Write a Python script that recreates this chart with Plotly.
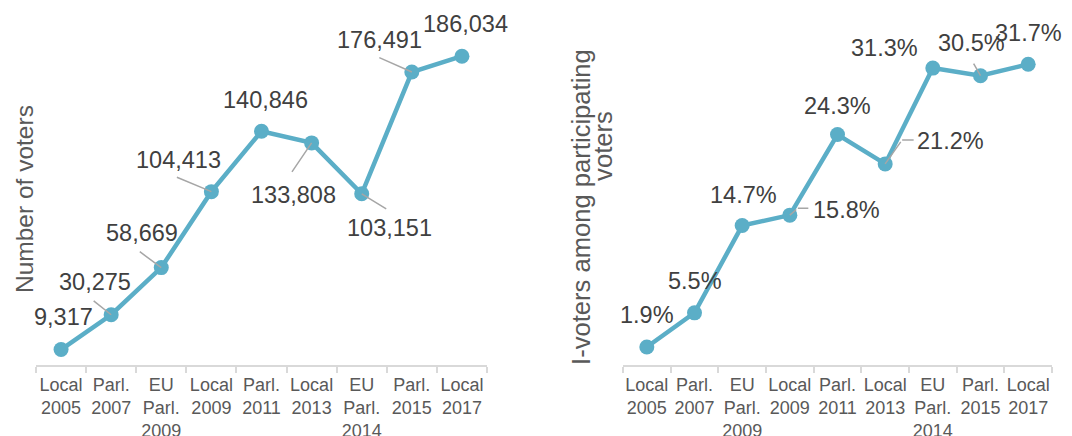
import plotly.graph_objects as go

# Election rounds (shared by both panels)
elections = ["Local<br>2005", "Parl.<br>2007", "EU<br>Parl.<br>2009", "Local<br>2009",
             "Parl.<br>2011", "Local<br>2013", "EU<br>Parl.<br>2014", "Parl.<br>2015",
             "Local<br>2017"]

# Number of internet voters
voters = [9317, 30275, 58669, 104413, 140846, 133808, 103151, 176491, 186034]

# Share of I-voters among participating voters (%)
share = [1.9, 5.5, 14.7, 15.8, 24.3, 21.2, 31.3, 30.5, 31.7]

# Label placement offsets in pixels (dx right, dy down) relative to each point
voters_label_off = [(2, -33), (-16, -33), (-19, -35), (-33, -32), (4, -31),
                    (-18, 52), (28, 34), (-32, -32), (4, -32)]
share_label_off = [(0, -32), (0, -32), (1, -31), (57, -5), (0, -29),
                   (65, -23), (-48, -20), (-9, -33), (0, -31)]

# Leader lines: (point index, start dx, start dy, end dx, end dy) in pixels
voters_leaders = [(1, 0, 0, -19, -15), (2, 0, 0, -23, -17), (3, 0, 0, -36, -15),
                  (5, 0, 0, -21, 31), (6, 0, 0, 26, 16), (7, 0, 0, -34, -15)]
share_leaders = [(3, 0, 0, 8, -7), (3, 8, -7, 20, -7),
                 (5, 0, 0, 17, -24), (5, 17, -24, 30, -24),
                 (7, 0, 0, -8, -14)]

LINE_COLOR = "#5BAEC7"
LABEL_COLOR = "#404040"
AXIS_TEXT = "#595959"
GRID_GRAY = "#D9D9D9"
LEADER_GRAY = "#A6A6A6"
FONT = "Arial, Liberation Sans, sans-serif"

W, H = 1072, 436
fig = go.Figure()

fig.add_trace(go.Scatter(
    x=elections, y=voters, mode="lines+markers", xaxis="x", yaxis="y",
    line=dict(color=LINE_COLOR, width=4.5),
    marker=dict(color=LINE_COLOR, size=15), hoverinfo="skip", showlegend=False))
fig.add_trace(go.Scatter(
    x=elections, y=share, mode="lines+markers", xaxis="x2", yaxis="y2",
    line=dict(color=LINE_COLOR, width=4.5),
    marker=dict(color=LINE_COLOR, size=15), hoverinfo="skip", showlegend=False))

annotations = []


def add_labels(xref, yref, values, offsets, fmt):
    for cat, v, (dx, dy) in zip(elections, values, offsets):
        annotations.append(dict(
            x=cat, y=v, xref=xref, yref=yref, text=fmt(v), showarrow=False,
            xanchor="center", yanchor="middle", xshift=dx, yshift=-dy,
            font=dict(family=FONT, size=23.5, color=LABEL_COLOR)))


def add_leaders(xref, yref, values, leaders):
    for i, sx, sy, ex, ey in leaders:
        annotations.append(dict(
            x=elections[i], y=values[i], xref=xref, yref=yref, text=" ",
            showarrow=True, arrowhead=0, arrowwidth=1.5, arrowcolor=LEADER_GRAY,
            standoff=0, startstandoff=0, xshift=sx, yshift=-sy,
            ax=ex - sx, ay=ey - sy, font=dict(size=1)))


add_labels("x", "y", voters, voters_label_off, lambda v: f"{v:,}")
add_labels("x2", "y2", share, share_label_off, lambda v: f"{v:.1f}%")
add_leaders("x", "y", voters, voters_leaders)
add_leaders("x2", "y2", share, share_leaders)

# Rotated axis titles
annotations.append(dict(text="Number of voters", xref="paper", yref="paper",
                        x=24 / W, y=0.5, textangle=-90, showarrow=False,
                        xanchor="center", yanchor="middle",
                        font=dict(family=FONT, size=24.5, color=AXIS_TEXT)))
annotations.append(dict(text="I-voters among participating", xref="paper", yref="paper",
                        x=581 / W, y=0.476, textangle=-90, showarrow=False,
                        xanchor="center", yanchor="middle",
                        font=dict(family=FONT, size=25.6, color=AXIS_TEXT)))
annotations.append(dict(text="voters", xref="paper", yref="paper",
                        x=603 / W, y=0.66, textangle=-90, showarrow=False,
                        xanchor="center", yanchor="middle",
                        font=dict(family=FONT, size=25.6, color=AXIS_TEXT)))

xaxis_style = dict(
    type="category", range=[-0.5, len(elections) - 0.5], autorange=False,
    showline=True, linecolor=GRID_GRAY, linewidth=2,
    ticks="outside", tickson="boundaries", ticklen=6, tickcolor=GRID_GRAY, tickwidth=2,
    showgrid=False, zeroline=False, tickangle=0, automargin=False, ticklabelstandoff=2,
    tickfont=dict(family=FONT, size=18, color=AXIS_TEXT), fixedrange=True)
yaxis_style = dict(showline=False, showticklabels=False, showgrid=False,
                   zeroline=False, ticks="", fixedrange=True, automargin=False)

fig.update_layout(
    width=W, height=H,
    margin=dict(l=0, r=0, t=33, b=71),
    paper_bgcolor="white", plot_bgcolor="white",
    xaxis=dict(domain=[36 / W, 487 / W], anchor="y", **xaxis_style),
    xaxis2=dict(domain=[623 / W, 1052 / W], anchor="y2", **xaxis_style),
    yaxis=dict(range=[0, 200000], anchor="x", **yaxis_style),
    yaxis2=dict(range=[0, 35], anchor="x2", **yaxis_style),
    annotations=annotations,
    font=dict(family=FONT),
)

fig.write_html("out.html")
